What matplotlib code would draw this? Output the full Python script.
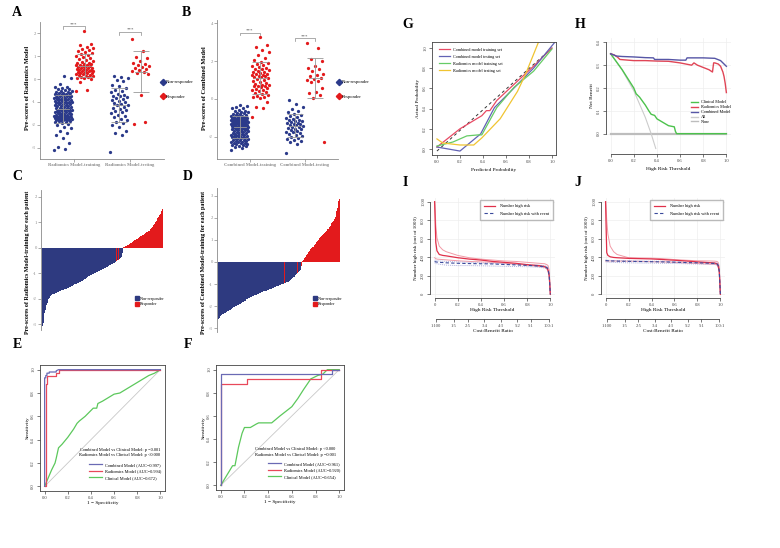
import numpy as np
import matplotlib.pyplot as plt
from matplotlib.lines import Line2D
from matplotlib.patches import Patch

plt.rcParams['font.family'] = 'Liberation Serif'
plt.rcParams['axes.unicode_minus'] = False

# ---------------- data ----------------
# pre-scores, radiomics model
rad_train_nr = [-3.10, -3.05, -2.95, -2.80, -2.55, -2.45, -2.35, -2.25, -2.15, -2.08, -2.02, -1.97, -1.93,
                -1.89, -1.85, -1.83, -1.81, -1.80, -1.79, -1.78, -1.77, -1.75, -1.74, -1.73, -1.72, -1.71,
                -1.70, -1.69, -1.68, -1.67, -1.66, -1.65, -1.64, -1.63, -1.62, -1.62, -1.61, -1.60, -1.58,
                -1.57, -1.55, -1.54, -1.52, -1.51, -1.49, -1.48, -1.46, -1.45, -1.43, -1.42, -1.41, -1.40,
                -1.38, -1.37, -1.36, -1.35, -1.34, -1.33, -1.31, -1.29, -1.28, -1.26, -1.24, -1.23, -1.21,
                -1.19, -1.17, -1.16, -1.14, -1.12, -1.10, -1.09, -1.07, -1.06, -1.05, -1.04, -1.02, -1.01,
                -0.99, -0.98, -0.96, -0.95, -0.93, -0.92, -0.90, -0.89, -0.88, -0.86, -0.85, -0.84, -0.83,
                -0.82, -0.80, -0.79, -0.77, -0.76, -0.74, -0.73, -0.71, -0.70, -0.68, -0.67, -0.66, -0.64,
                -0.63, -0.62, -0.60, -0.58, -0.56, -0.54, -0.51, -0.48, -0.45, -0.42, -0.39, -0.36, -0.34,
                -0.20, 0.05, 0.12]
rad_train_r = [-0.52, -0.47, -0.12, 0.02, 0.04, 0.06, 0.08, 0.10, 0.12, 0.14, 0.16, 0.18, 0.20, 0.22, 0.24,
               0.26, 0.27, 0.29, 0.31, 0.33, 0.34, 0.36, 0.38, 0.39, 0.41, 0.43, 0.45, 0.47, 0.48, 0.50,
               0.52, 0.54, 0.55, 0.57, 0.59, 0.61, 0.62, 0.64, 0.66, 0.68, 0.70, 0.74, 0.78, 0.82, 0.86,
               0.90, 0.94, 0.98, 1.03, 1.07, 1.12, 1.16, 1.21, 1.25, 1.29, 1.34, 1.40, 1.46, 1.52, 2.10]
rad_test_nr = [-3.17, -2.42, -2.35, -2.28, -2.10, -2.00, -1.92, -1.85, -1.78, -1.72, -1.65, -1.60, -1.55,
               -1.50, -1.45, -1.40, -1.35, -1.30, -1.25, -1.20, -1.15, -1.12, -1.08, -1.04, -1.00, -0.96,
               -0.92, -0.88, -0.84, -0.80, -0.76, -0.72, -0.68, -0.64, -0.58, -0.52, -0.46, -0.40, -0.32,
               -0.25, -0.10, -0.05, 0.05, 0.10, 0.15]
rad_test_r = [1.72, 1.22, 0.95, 0.90, 0.80, 0.70, 0.65, 0.60, 0.55, 0.52, 0.48, 0.45, 0.40, 0.35, 0.30,
              0.25, 0.20, -0.70, -1.95, -1.87]

# pre-scores, combined model
com_train_nr = [-2.70, -2.60, -2.55, -2.50, -2.46, -2.43, -2.40, -2.38, -2.35, -2.33, -2.31, -2.30, -2.28,
                -2.26, -2.24, -2.22, -2.20, -2.18, -2.16, -2.14, -2.12, -2.10, -2.08, -2.06, -2.04, -2.02,
                -2.00, -1.98, -1.96, -1.95, -1.94, -1.93, -1.92, -1.90, -1.88, -1.86, -1.84, -1.81, -1.79,
                -1.77, -1.75, -1.73, -1.70, -1.68, -1.66, -1.64, -1.62, -1.60, -1.59, -1.58, -1.56, -1.55,
                -1.54, -1.52, -1.51, -1.50, -1.48, -1.47, -1.46, -1.44, -1.43, -1.42, -1.40, -1.39, -1.38,
                -1.36, -1.35, -1.34, -1.33, -1.32, -1.31, -1.30, -1.29, -1.27, -1.26, -1.25, -1.23, -1.22,
                -1.21, -1.20, -1.19, -1.18, -1.16, -1.15, -1.14, -1.13, -1.11, -1.10, -1.09, -1.08, -1.06,
                -1.05, -1.04, -1.02, -1.01, -1.00, -0.99, -0.98, -0.96, -0.95, -0.93, -0.91, -0.89, -0.87,
                -0.85, -0.82, -0.80, -0.77, -0.75, -0.72, -0.70, -0.67, -0.64, -0.61, -0.56, -0.50, -0.45,
                -0.40, -0.35, -0.30]
com_train_r = [-0.97, -0.50, -0.42, -0.18, 0.05, 0.08, 0.12, 0.18, 0.22, 0.28, 0.32, 0.38, 0.42, 0.46, 0.50,
               0.55, 0.60, 0.64, 0.66, 0.68, 0.70, 0.72, 0.76, 0.80, 0.85, 0.90, 0.95, 1.00, 1.05, 1.10,
               1.14, 1.18, 1.20, 1.22, 1.25, 1.28, 1.30, 1.33, 1.36, 1.40, 1.44, 1.48, 1.52, 1.56, 1.60,
               1.65, 1.70, 1.75, 1.80, 1.85, 1.90, 1.95, 2.05, 2.15, 2.30, 2.45, 2.60, 2.75, 2.85, 3.25]
com_test_nr = [-2.84, -2.35, -2.25, -2.20, -2.15, -2.10, -2.05, -2.00, -1.95, -1.90, -1.85, -1.80, -1.76,
               -1.72, -1.68, -1.64, -1.60, -1.56, -1.52, -1.48, -1.45, -1.42, -1.39, -1.36, -1.33, -1.30,
               -1.27, -1.24, -1.21, -1.18, -1.15, -1.12, -1.08, -1.04, -1.00, -0.95, -0.90, -0.85, -0.78,
               -0.70, -0.62, -0.52, -0.40, -0.28, -0.05]
com_test_r = [2.95, 2.70, 2.10, 2.00, 1.75, 1.65, 1.60, 1.45, 1.30, 1.25, 1.20, 1.10, 1.05, 1.00, 0.95,
              0.90, 0.60, 0.35, 0.30, 0.20, 0.05, -2.25]

# ROC, training (E) and testing (F)
e_comb_x = [0, 0, 0.01, 0.01, 0.02, 0.02, 0.04, 0.04, 0.10, 0.10, 0.12, 1.0]
e_comb_y = [0, 0.93, 0.93, 0.95, 0.95, 0.97, 0.97, 0.98, 0.98, 0.99, 1.0, 1.0]
e_rad_x = [0, 0.01, 0.01, 0.02, 0.02, 0.10, 0.10, 0.12, 0.12, 1.0]
e_rad_y = [0, 0, 0.88, 0.88, 0.95, 0.95, 0.97, 0.97, 1.0, 1.0]
e_clin_x = [0, 0.03, 0.06, 0.09, 0.10, 0.12, 0.15, 0.20, 0.25, 0.28, 0.30, 0.35, 0.40, 0.42, 0.45, 0.46,
            0.50, 0.55, 0.60, 0.65, 0.70, 0.75, 0.80, 0.85, 0.90, 0.95, 1.0]
e_clin_y = [0, 0.07, 0.14, 0.20, 0.24, 0.33, 0.36, 0.42, 0.49, 0.54, 0.56, 0.60, 0.65, 0.67, 0.67, 0.71,
            0.73, 0.76, 0.79, 0.80, 0.83, 0.86, 0.89, 0.92, 0.95, 0.97, 1.0]
f_comb_x = [0, 0, 0.94, 0.94, 1.0]
f_comb_y = [0, 0.96, 0.96, 1.0, 1.0]
f_rad_x = [0, 0, 0.22, 0.22, 0.85, 0.85, 1.0]
f_rad_y = [0, 0.875, 0.875, 0.917, 0.917, 1.0, 1.0]
f_clin_x = [0, 0.10, 0.12, 0.15, 0.18, 0.20, 0.25, 0.30, 0.32, 0.43, 0.50, 0.55, 0.60, 0.65, 0.70, 0.76,
            0.82, 0.86, 0.90, 1.0]
f_clin_y = [0, 0.17, 0.17, 0.33, 0.45, 0.50, 0.50, 0.53, 0.54, 0.54, 0.60, 0.64, 0.68, 0.75, 0.83, 0.92,
            0.95, 0.96, 1.0, 1.0]
e_auc = ['0.997', '0.994', '0.672']
f_auc = ['0.961', '0.920', '0.654']
e_p = ['p =0.001', 'p <0.000']
f_p = ['p <0.000', 'p =0.001']

# calibration (G)
g_comb_tr_x = [0.0, 0.2, 0.39, 0.43, 0.46, 0.52, 0.67, 0.84, 1.0]
g_comb_tr_y = [0.02, 0.2, 0.33, 0.38, 0.38, 0.48, 0.64, 0.82, 1.0]
g_comb_te_x = [0.0, 0.2, 0.38, 0.5, 0.64, 0.84, 1.02]
g_comb_te_y = [0.02, -0.02, 0.15, 0.41, 0.57, 0.8, 1.05]
g_rad_tr_x = [0.0, 0.14, 0.26, 0.36, 0.39, 0.52, 0.67, 0.84, 1.0]
g_rad_tr_y = [0.03, 0.07, 0.13, 0.14, 0.14, 0.41, 0.61, 0.77, 0.99]
g_rad_te_x = [0.0, 0.05, 0.2, 0.32, 0.39, 0.55, 0.7, 0.77, 0.88]
g_rad_te_y = [0.1, 0.06, 0.04, 0.04, 0.11, 0.3, 0.57, 0.74, 1.05]

# decision curves (H)
h_clin_x = [0, 0.05, 0.1, 0.15, 0.2, 0.22, 0.25, 0.3, 0.33, 0.35, 0.38, 0.4, 0.45, 0.5, 0.55, 0.56, 0.57, 1.0]
h_clin_y = [0.35, 0.315, 0.28, 0.24, 0.2, 0.175, 0.16, 0.125, 0.1, 0.085, 0.08, 0.065, 0.05, 0.035, 0.03,
            0.01, 0.0, 0.0]
h_rad_x = [0, 0.03, 0.06, 0.08, 0.15, 0.2, 0.3, 0.4, 0.5, 0.6, 0.65, 0.7, 0.72, 0.75, 0.8, 0.85, 0.88,
           0.89, 0.9, 0.93, 0.95, 0.97, 0.98, 0.99, 1.0]
h_rad_y = [0.35, 0.345, 0.335, 0.325, 0.322, 0.32, 0.32, 0.318, 0.317, 0.31, 0.305, 0.3, 0.31, 0.3, 0.29,
           0.28, 0.27, 0.31, 0.31, 0.305, 0.295, 0.27, 0.25, 0.22, 0.18]
h_comb_x = [0, 0.05, 0.1, 0.2, 0.3, 0.37, 0.38, 0.5, 0.6, 0.65, 0.66, 0.8, 0.9, 0.95, 0.97, 1.0]
h_comb_y = [0.35, 0.34, 0.338, 0.336, 0.333, 0.332, 0.325, 0.325, 0.322, 0.322, 0.332, 0.332, 0.33, 0.32,
            0.31, 0.295]
h_all_x = [0, 0.1, 0.2, 0.3, 0.35, 0.39]
h_all_y = [0.35, 0.278, 0.188, 0.071, 0.0, -0.065]
h_none_x = [0, 1.0]
h_none_y = [0, 0]

# clinical impact curves (I training, J testing)
ci_x = [0, 0.005, 0.01, 0.02, 0.04, 0.07, 0.1, 0.2, 0.3, 0.4, 0.5, 0.6, 0.7, 0.8, 0.9, 0.95, 0.97, 0.98,
        0.99, 1.0]
i_hr = [1000, 780, 560, 470, 430, 420, 415, 395, 380, 370, 355, 345, 335, 320, 310, 300, 285, 260, 200, 0]
i_hr_hi = [1000, 900, 750, 610, 520, 480, 460, 420, 395, 380, 370, 360, 355, 345, 335, 330, 320, 310, 260, 0]
i_hr_lo = [395, 390, 385, 380, 378, 375, 372, 362, 355, 350, 345, 335, 325, 315, 300, 290, 275, 250, 190, 0]
i_ev = [355, 352, 350, 348, 345, 343, 340, 335, 332, 330, 328, 322, 318, 312, 305, 298, 290, 270, 200, 0]
i_ev_hi = [370, 368, 365, 362, 360, 358, 355, 350, 345, 340, 335, 330, 325, 320, 315, 310, 300, 280, 210, 0]
i_ev_lo = [340, 338, 335, 330, 325, 320, 315, 310, 310, 308, 305, 302, 300, 298, 292, 285, 275, 255, 190, 0]
j_hr = [1000, 700, 450, 420, 405, 398, 395, 388, 385, 382, 375, 368, 360, 350, 342, 338, 330, 310, 250, 0]
j_hr_hi = [1000, 920, 800, 650, 520, 460, 430, 395, 392, 390, 385, 375, 368, 362, 360, 358, 355, 345, 300, 0]
j_hr_lo = [360, 360, 360, 360, 360, 360, 360, 358, 356, 352, 350, 345, 338, 332, 326, 322, 318, 300, 240, 0]
j_ev = [365, 364, 363, 362, 360, 360, 358, 356, 354, 352, 350, 347, 343, 340, 336, 333, 330, 315, 250, 0]
j_ev_hi = [372, 370, 370, 368, 366, 365, 364, 362, 360, 358, 356, 352, 350, 346, 343, 340, 338, 325, 260, 0]
j_ev_lo = [352, 350, 350, 348, 346, 345, 343, 340, 338, 337, 335, 333, 330, 327, 325, 322, 318, 300, 240, 0]
cb_labels = ['1:100', '1:5', '2:5', '3:4', '4:3', '5:2', '5:1', '100:1']

# ---------------- layout helpers ----------------
W, H = 780, 548
fig = plt.figure(figsize=(W / 100, H / 100), dpi=100)

BLUE = '#2b3a8a'
RED = '#e31a1c'
GREY = '#8a8a8a'
TK = 3.3


def px_axes(l, t, r, b):
    return fig.add_axes([l / W, 1 - b / H, (r - l) / W, (b - t) / H])


def ftext(x, y, s, **kw):
    fig.text(x / W, 1 - y / H, s, **kw)


def jitter(n, w):
    return ((np.arange(n) * 0.618034) % 1 - 0.5) * 2 * w


def gg_axes(ax):
    for s in ['top', 'right']:
        ax.spines[s].set_visible(False)
    for s in ['left', 'bottom']:
        ax.spines[s].set_color(GREY)
        ax.spines[s].set_linewidth(0.6)
    ax.tick_params(colors=GREY, labelsize=TK, width=0.5, length=2, pad=1)


def r_axes(ax, box=True):
    for s in ax.spines.values():
        s.set_linewidth(0.6)
        s.set_color('#444444')
        s.set_visible(box)
    ax.tick_params(labelsize=TK, width=0.5, length=2, pad=1.5, colors='#444444')
    for lb in ax.get_yticklabels():
        lb.set_rotation(90)
        lb.set_va('center')


# ---------------- A / B dot plots ----------------
def dot_panel(ax, tr_nr, tr_r, te_nr, te_r, ylim, yticks, xlabels, brackets):
    d = 0.19
    for x, vals, col in [(1 - d, tr_nr, BLUE), (1 + d, tr_r, RED), (2 - d, te_nr, BLUE), (2 + d, te_r, RED)]:
        v = np.array(vals)
        ax.scatter(x + jitter(len(v), 0.16), v, s=5.5, color=col, lw=0, zorder=3)
        m, sd = v.mean(), v.std(ddof=1)
        ax.errorbar(x, m, yerr=sd, color='#999999', lw=0.6, capsize=6, capthick=0.6, zorder=4)
        ax.plot([x - 0.11, x + 0.11], [m, m], color='#999999', lw=0.6, zorder=4)
    for xc, yb, dy in brackets:
        ax.plot([xc - d, xc - d, xc + d, xc + d], [yb - dy, yb, yb, yb - dy], color=GREY, lw=0.5)
        ax.text(xc, yb, '***', ha='center', va='bottom', fontsize=3.5, color='#555555')
    ax.set_xlim(0.4, 2.6)
    ax.set_ylim(*ylim)
    ax.set_yticks(yticks)
    ax.set_xticks([1, 2])
    ax.set_xticklabels(xlabels, fontsize=3.8, fontweight='bold', color='#222222')
    gg_axes(ax)


axA = px_axes(40, 22, 164, 159)
dot_panel(axA, rad_train_nr, rad_train_r, rad_test_nr, rad_test_r, (-3.48, 2.48), [-3, -2, -1, 0, 1, 2],
          ['Radiomics Model-training', 'Radiomics Model-testing'], [(1, 2.3, 0.12), (2, 2.05, 0.12)])
axB = px_axes(217, 20, 338, 159)
dot_panel(axB, com_train_nr, com_train_r, com_test_nr, com_test_r, (-3.16, 4.16), [-2, 0, 2, 4],
          ['Combined Model-training', 'Combined Model-testing'], [(1, 3.5, 0.15), (2, 3.2, 0.15)])
ftext(28, 88, 'Pre-scores of Radiomics Model', rotation=90, ha='center', va='center', fontsize=4.6,
      fontweight='bold')
ftext(205, 88, 'Pre-scores of Combined Model', rotation=90, ha='center', va='center', fontsize=4.6,
      fontweight='bold')

dia = [Line2D([], [], ls='', marker='D', ms=3.2, color=BLUE), Line2D([], [], ls='', marker='D', ms=3.2, color=RED)]
for x0, y0 in [(158, 78), (334, 78)]:
    fig.legend(dia, ['Non-responder', 'Responder'], loc='upper left', bbox_to_anchor=(x0 / W, 1 - y0 / H),
               frameon=False, fontsize=3.3, handlelength=1.0, handletextpad=0.3, labelspacing=2.2,
               borderpad=0)


# ---------------- C / D waterfalls ----------------
def waterfall(ax, nr, r, ylim, yticks):
    vals = np.r_[np.array(nr), np.array(r)]
    lab = np.r_[np.zeros(len(nr)), np.ones(len(r))]
    order = np.argsort(vals, kind='stable')
    vals, lab = vals[order], lab[order]
    ax.bar(np.arange(len(vals)), vals, width=1.0, color=np.where(lab == 1, RED, '#2e3a80'), lw=0)
    ax.set_xlim(-1.5, len(vals) + 0.5)
    ax.set_ylim(*ylim)
    ax.set_yticks(yticks)
    ax.set_xticks([])
    gg_axes(ax)
    ax.spines['bottom'].set_visible(False)


axC = px_axes(41, 190, 164, 330)
waterfall(axC, rad_train_nr, rad_train_r, (-3.22, 2.27), [-3, -2, -1, 0, 1, 2])
axD = px_axes(217, 188, 341, 332)
waterfall(axD, com_train_nr, com_train_r, (-3.18, 3.36), [-3, -2, -1, 0, 1, 2, 3])
ftext(28, 262, 'Pre-scores of Radiomics Model-training for each patient', rotation=90, ha='center',
      va='center', fontsize=4.3, fontweight='bold')
ftext(204, 262, 'Pre-scores of Combined Model-training for each patient', rotation=90, ha='center',
      va='center', fontsize=4.3, fontweight='bold')
sq = [Patch(color='#2e3a80'), Patch(color=RED)]
for x0, y0 in [(133, 294), (311, 294)]:
    fig.legend(sq, ['Non-responder', 'Responder'], loc='upper left', bbox_to_anchor=(x0 / W, 1 - y0 / H),
               frameon=False, fontsize=3.0, handlelength=0.9, handleheight=1.2, handletextpad=0.3,
               labelspacing=0.25, borderpad=0)


# ---------------- E / F ROC ----------------
ROC_C = ['#6a6ab4', '#e8485a', '#5cc85c']


def roc_panel(ax, curves, aucs, ps, tx):
    ax.plot([0, 1], [0, 1], color='#c8c8c8', lw=0.6)
    for (xs, ys), c in zip(curves[::-1], ROC_C[::-1]):
        ax.plot(xs, ys, color=c, lw=0.9)
    ax.set_xlim(-0.04, 1.04)
    ax.set_ylim(-0.04, 1.04)
    ticks = [0, 0.2, 0.4, 0.6, 0.8, 1.0]
    ax.set_xticks(ticks)
    ax.set_yticks(ticks)
    ax.set_xticklabels(['%.1f' % t for t in ticks])
    ax.set_yticklabels(['%.1f' % t for t in ticks])
    r_axes(ax)
    ax.text(tx, 0.31, 'Combined Model vs Clinical Model: ' + ps[0], fontsize=3.2, ha='right', va='center')
    ax.text(tx, 0.265, 'Radiomics Model vs Clinical Model: ' + ps[1], fontsize=3.2, ha='right', va='center')
    names = ['Combined Model', 'Radiomics Model', 'Clinical Model']
    hs = [Line2D([], [], color=c, lw=0.9) for c in ROC_C]
    ax.legend(hs, ['%s (AUC=%s)' % (n, a) for n, a in zip(names, aucs)], loc='lower right',
              bbox_to_anchor=(0.99, 0.07), frameon=False, fontsize=3.2, handlelength=3.0,
              handletextpad=0.6, labelspacing=0.55, borderpad=0)
    ax.set_xlabel('1 − Specificity', fontsize=3.8, labelpad=1)
    ax.set_ylabel('Sensitivity', fontsize=3.8, labelpad=1)


axE = px_axes(40, 365, 165, 491)
roc_panel(axE, [(e_comb_x, e_comb_y), (e_rad_x, e_rad_y), (e_clin_x, e_clin_y)], e_auc, e_p, 1.0)
axF = px_axes(216, 365, 344, 490)
roc_panel(axF, [(f_comb_x, f_comb_y), (f_rad_x, f_rad_y), (f_clin_x, f_clin_y)], f_auc, f_p, 0.97)

# ---------------- G calibration ----------------
axG = px_axes(432, 42, 556, 155)
axG.plot([0, 1], [-0.02, 1.0], color='#333333', lw=0.7, ls=(0, (3, 3)))
g_cols = ['#e84a64', '#6262b4', '#66cc66', '#f0c431']
for xs, ys, c in zip([g_comb_tr_x, g_comb_te_x, g_rad_tr_x, g_rad_te_x],
                     [g_comb_tr_y, g_comb_te_y, g_rad_tr_y, g_rad_te_y], g_cols):
    axG.plot(xs, ys, color=c, lw=0.9)
axG.set_xlim(-0.043, 1.035)
axG.set_ylim(-0.059, 1.059)
gt = [0, 0.2, 0.4, 0.6, 0.8, 1.0]
axG.set_xticks(gt)
axG.set_yticks(gt)
axG.set_xticklabels(['%.1f' % t for t in gt])
axG.set_yticklabels(['%.1f' % t for t in gt])
r_axes(axG)
axG.set_xlabel('Predicted Probability', fontsize=3.8, labelpad=3)
axG.set_ylabel('Actual Probability', fontsize=3.8, labelpad=2)
axG.legend([Line2D([], [], color=c, lw=0.9) for c in g_cols],
           ['Combined model training set', 'Combined model testing set', 'Radiomics model training set',
            'Radiomics model testing set'], loc='upper left', bbox_to_anchor=(0.04, 0.97), frameon=False,
           fontsize=3.1, handlelength=2.6, handletextpad=0.6, labelspacing=0.7, borderpad=0)

# ---------------- H decision curve ----------------
axH = px_axes(606, 38, 731, 154)
axH.grid(True, color='#eeeeee', lw=0.5)
axH.set_axisbelow(True)
h_cols = ['#4cc24c', '#e04556', '#5656a6', '#cccccc', '#bdbdbd']
axH.plot(h_none_x, h_none_y, color=h_cols[4], lw=1.6)
axH.plot(h_all_x, h_all_y, color=h_cols[3], lw=0.8)
axH.plot(h_clin_x, h_clin_y, color=h_cols[0], lw=1.0)
axH.plot(h_rad_x, h_rad_y, color=h_cols[1], lw=1.0)
axH.plot(h_comb_x, h_comb_y, color=h_cols[2], lw=1.0)
axH.set_xlim(-0.04, 1.04)
axH.set_ylim(-0.089, 0.419)
axH.set_xticks(gt)
axH.set_xticklabels(['%.1f' % t for t in gt])
axH.set_yticks([0, 0.1, 0.2, 0.3, 0.4])
axH.set_yticklabels(['0.0', '0.1', '0.2', '0.3', '0.4'])
r_axes(axH, box=False)
for s in ['left', 'bottom']:
    axH.spines[s].set_visible(True)
axH.spines['left'].set_bounds(0, 0.4)
axH.spines['bottom'].set_bounds(0, 1)
axH.set_xlabel('High Risk Threshold', fontsize=3.8, labelpad=3)
axH.set_ylabel('Net Benefit', fontsize=3.8, labelpad=2)
axH.legend([Line2D([], [], color=c, lw=1.0) for c in h_cols],
           ['Clinical Model', 'Radiomics Model', 'Combined Model', 'All', 'None'], loc='upper left',
           bbox_to_anchor=(0.66, 0.48), frameon=False, fontsize=3.1, handlelength=1.8, handletextpad=0.6,
           labelspacing=0.2, borderpad=0)


# ---------------- I / J clinical impact ----------------
def impact_panel(ax, hr, hr_hi, hr_lo, ev, ev_hi, ev_lo, l, r):
    ax.grid(True, color='#eeeeee', lw=0.5)
    ax.set_axisbelow(True)
    ax.plot(ci_x, hr_hi, color='#f29aa6', lw=0.7)
    ax.plot(ci_x, hr_lo, color='#f29aa6', lw=0.7)
    ax.plot(ci_x, ev_hi, color='#b0b0dc', lw=0.7, ls=(0, (1, 1)))
    ax.plot(ci_x, ev_lo, color='#b0b0dc', lw=0.7, ls=(0, (1, 1)))
    ax.plot(ci_x, hr, color='#e0304a', lw=0.9)
    ax.plot(ci_x, ev, color='#3a4a9c', lw=0.8, ls=(0, (3, 2)))
    ax.set_xlim(-0.04, 1.04)
    ax.set_ylim(-40, 1040)
    ax.set_xticks(gt)
    ax.set_xticklabels(['0', '0.2', '0.4', '0.6', '0.8', '1.0'])
    ax.set_yticks([0, 200, 400, 600, 800, 1000])
    r_axes(ax, box=False)
    for s in ['left', 'bottom']:
        ax.spines[s].set_visible(True)
    ax.spines['left'].set_bounds(0, 1000)
    ax.spines['bottom'].set_bounds(0, 1)
    ax.set_xlabel('High Risk Threshold', fontsize=3.8, labelpad=1)
    ax.set_ylabel('Number high risk (out of 1000)', fontsize=3.6, labelpad=2)
    ax.legend([Line2D([], [], color='#e0304a', lw=0.9), Line2D([], [], color='#3a4a9c', lw=0.8, ls=(0, (3, 2)))],
              ['Number high risk', 'Number high risk with event'], loc='upper right',
              bbox_to_anchor=(1.0, 1.0), frameon=True, fancybox=False, edgecolor='#aaaaaa',
              fontsize=3.1, handlelength=2.6, handletextpad=1.2, labelspacing=0.9, borderpad=0.9)
    # cost:benefit ratio axis
    cb = px_axes(l, 300, r, 319)
    cb.patch.set_visible(False)
    for s in ['left', 'right', 'top']:
        cb.spines[s].set_visible(False)
    cb.spines['bottom'].set_linewidth(0.6)
    cb.spines['bottom'].set_color('#444444')
    pos = []
    for lb in cb_labels:
        a, b = lb.split(':')
        pos.append(float(a) / (float(a) + float(b)))
    cb.spines['bottom'].set_bounds(pos[0], pos[-1])
    cb.set_xlim(-0.04, 1.04)
    cb.set_yticks([])
    cb.set_xticks(pos)
    cb.set_xticklabels(cb_labels)
    cb.tick_params(labelsize=TK, width=0.5, length=2, pad=1.5, colors='#444444')
    cb.set_xlabel('Cost:Benefit Ratio', fontsize=3.8, labelpad=1)


axI = px_axes(430, 198, 555, 298)
impact_panel(axI, i_hr, i_hr_hi, i_hr_lo, i_ev, i_ev_hi, i_ev_lo, 430, 555)
axJ = px_axes(601, 198, 725, 298)
impact_panel(axJ, j_hr, j_hr_hi, j_hr_lo, j_ev, j_ev_hi, j_ev_lo, 601, 725)

# ---------------- panel letters ----------------
for s, x, y in [('A', 17, 12), ('B', 186, 12), ('C', 17, 176), ('D', 188, 176), ('E', 17, 345),
                ('F', 188, 345), ('G', 408, 25), ('H', 580, 25), ('I', 405, 183), ('J', 578, 183)]:
    ftext(x, y, s, fontsize=10, fontweight='bold', ha='center', va='center')

fig.savefig('out.png', dpi=100)
